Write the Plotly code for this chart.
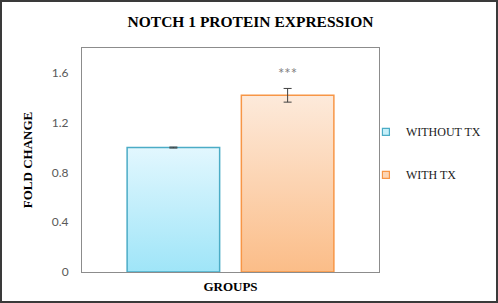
import plotly.graph_objects as go

# ---- data ----
groups = ["WITHOUT TX", "WITH TX"]
fold_change = [1.00, 1.42]
errors = [0.004, 0.055]
significance = ["", "***"]
y_ticks = [0, 0.4, 0.8, 1.2, 1.6]

# ---- styling ----
positions = [0, 1]
bar_width = 0.81
border_colors = ["#4bacc6", "#f79646"]
top_colors = ["#e2f7fe", "#fdeadb"]
bottom_colors = ["#9fe5f8", "#fbbd88"]
legend_fill = ["#c5eff9", "#fcd5b4"]
serif = "Liberation Serif, Times New Roman, serif"
sans = "Lato, Carlito, Calibri, sans-serif"

fig = go.Figure()

for i, g in enumerate(groups):
    x0 = positions[i] - bar_width / 2
    x1 = positions[i] + bar_width / 2
    v = fold_change[i]
    fig.add_trace(go.Scatter(
        x=[x0, x1, x1, x0, x0], y=[0, 0, v, v, 0],
        mode="lines", fill="toself",
        fillgradient=dict(type="vertical",
                          colorscale=[[0, bottom_colors[i]], [1, top_colors[i]]]),
        line=dict(color=border_colors[i], width=1.5),
        showlegend=False, hoverinfo="skip",
    ))
    fig.add_trace(go.Scatter(
        x=[positions[i]], y=[v], mode="markers",
        marker=dict(size=0.1, color="rgba(0,0,0,0)"),
        error_y=dict(type="data", array=[errors[i]], visible=True,
                     color="#404040", thickness=1, width=4),
        showlegend=False, hoverinfo="skip",
    ))
    fig.add_trace(go.Scatter(
        x=[None], y=[None], mode="markers", name=g, legendgroup=g,
        marker=dict(symbol="square", size=7, color=legend_fill[i],
                    line=dict(color=border_colors[i], width=1.2)),
    ))
    if significance[i]:
        fig.add_annotation(x=positions[i], y=v + errors[i], text=significance[i],
                           showarrow=False, yshift=15, yanchor="middle",
                           font=dict(family=sans, size=15, color="#7f7f7f"))

# outer frame
fig.add_shape(type="rect", xref="paper", yref="paper",
              x0=-81 / 297, x1=415 / 297, y0=-30 / 224, y1=271 / 224,
              line=dict(color="#3a3a3a", width=2), layer="above")

fig.update_layout(
    width=498, height=303,
    margin=dict(l=82, r=119, t=48, b=31),
    paper_bgcolor="white", plot_bgcolor="white",
    title=dict(text="<b>NOTCH 1 PROTEIN EXPRESSION</b>", x=0.503, xanchor="center",
               y=1 - 22 / 303, yanchor="middle",
               font=dict(family=serif, size=15.5, color="#000000")),
    xaxis=dict(range=[-0.8, 1.8], showticklabels=False, ticks="", showgrid=False,
               zeroline=False, showline=True, mirror=True, linecolor="#8c8c8c", linewidth=1,
               title=dict(text="<b>GROUPS</b>", standoff=9,
                          font=dict(family=serif, size=13, color="#000000"))),
    yaxis=dict(range=[0, 1.8], tickvals=y_ticks, ticktext=[("%g" % t) for t in y_ticks],
               showgrid=False, zeroline=False, showline=True, mirror=True,
               linecolor="#8c8c8c", linewidth=1, ticks="", ticklabelstandoff=10,
               tickfont=dict(family=sans, size=12, color="#595959"),
               title=dict(text="<b>FOLD CHANGE</b>", standoff=16,
                          font=dict(family=serif, size=13, color="#000000"))),
    legend=dict(x=0.956, xanchor="left", y=0.53, yanchor="middle",
                font=dict(family=serif, size=12, color="#1a1a1a"),
                tracegroupgap=24, itemwidth=30, bgcolor="rgba(0,0,0,0)"),
    showlegend=True,
)

fig.write_html("out.html")
